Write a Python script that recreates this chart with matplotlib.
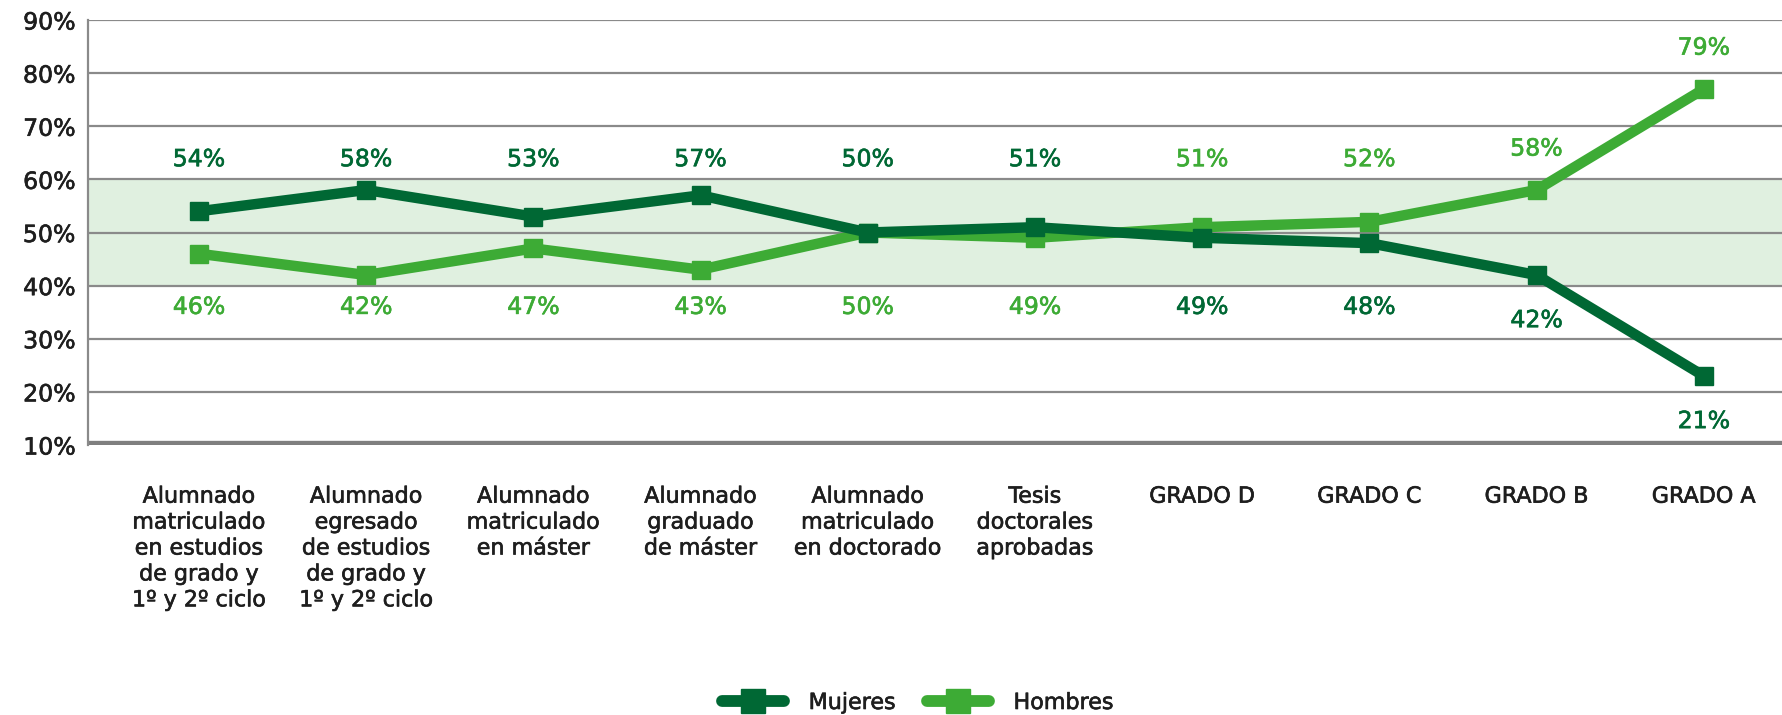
import numpy as np
import matplotlib
matplotlib.use('Agg')
import matplotlib.pyplot as plt
import matplotlib.patheffects as pe
from matplotlib.lines import Line2D

plt.rcParams['font.family'] = ['DejaVu Sans']

categorias = ['Alumnado\nmatriculado\nen estudios\nde grado y\n1º y 2º ciclo',
              'Alumnado\negresado\nde estudios\nde grado y\n1º y 2º ciclo',
              'Alumnado\nmatriculado\nen máster',
              'Alumnado\ngraduado\nde máster',
              'Alumnado\nmatriculado\nen doctorado',
              'Tesis\ndoctorales\naprobadas',
              'GRADO D', 'GRADO C', 'GRADO B', 'GRADO A']
mujeres = [54, 58, 53, 57, 50, 51, 49, 48, 42, 23]
hombres = [46, 42, 47, 43, 50, 49, 51, 52, 58, 77]
etiquetas_mujeres = ['54%', '58%', '53%', '57%', '50%', '51%', '49%', '48%', '42%', '21%']
etiquetas_hombres = ['46%', '42%', '47%', '43%', '50%', '49%', '51%', '52%', '58%', '79%']
yticks = [10, 20, 30, 40, 50, 60, 70, 80, 90]

C_MUJ = '#006834'
C_HOM = '#3dab35'
C_GRID = '#8a8a8a'
C_TXT = '#1e1e1e'


def grueso(color):
    # engrosa un poco el trazo de la fuente (peso "medium")
    return [pe.withStroke(linewidth=0.45, foreground=color)]


fig = plt.figure(figsize=(17.82, 7.15), dpi=100)
ax = fig.add_axes([88/1782, 1-445/715, 1-88/1782, (445-20)/715])

x = np.arange(len(categorias))
ax.set_xlim(-0.664, 9.468)
ax.set_ylim(10, 90)

# franja de paridad 40-60
ax.axhspan(40, 60, color='#e0f0e0', zorder=0, lw=0)
for t in yticks[1:]:
    ax.axhline(t, color=C_GRID, lw=1.6, zorder=1)
ax.axhline(10, color='#7f7f7f', lw=6, zorder=1, solid_capstyle='butt')

for s in ['top', 'right', 'bottom']:
    ax.spines[s].set_visible(False)
ax.spines['left'].set_color(C_GRID)
ax.spines['left'].set_linewidth(1.6)

ax.plot(x, mujeres, color=C_MUJ, lw=7.5, marker='s', ms=13, zorder=3,
        solid_joinstyle='miter')
ax.plot(x, hombres, color=C_HOM, lw=7.5, marker='s', ms=13, zorder=2,
        solid_joinstyle='miter')

for i in range(len(x)):
    if mujeres[i] >= hombres[i]:
        arriba, abajo = (mujeres[i], etiquetas_mujeres[i], C_MUJ), (hombres[i], etiquetas_hombres[i], C_HOM)
    else:
        arriba, abajo = (hombres[i], etiquetas_hombres[i], C_HOM), (mujeres[i], etiquetas_mujeres[i], C_MUJ)
    if i >= 8:  # grados B y A: etiqueta pegada al punto
        ya, yb = arriba[0] + 7.8, abajo[0] - 8.5
    else:
        ya, yb = 63.8, 36.0
    ax.text(x[i], ya, arriba[1], color=arriba[2], fontsize=17, ha='center', va='center',
            path_effects=grueso(arriba[2]))
    ax.text(x[i], yb, abajo[1], color=abajo[2], fontsize=17, ha='center', va='center',
            path_effects=grueso(abajo[2]))

ax.set_yticks(yticks)
ax.set_yticklabels([f'{t}%' for t in yticks], fontsize=17, color=C_TXT,
                   path_effects=grueso(C_TXT))
ax.tick_params(axis='y', length=0, pad=9)
ax.set_xticks(x)
ax.set_xticklabels(categorias, fontsize=16, color=C_TXT, linespacing=1.37, va='top',
                   path_effects=grueso(C_TXT))
ax.tick_params(axis='x', length=0, pad=30)

handles = [Line2D([], [], color=C_MUJ, lw=8.5, marker='s', ms=17, solid_capstyle='round'),
           Line2D([], [], color=C_HOM, lw=8.5, marker='s', ms=17, solid_capstyle='round')]
leg = fig.legend(handles, ['Mujeres', 'Hombres'], loc='center', bbox_to_anchor=(0.515, 1-703/715),
                 ncol=2, frameon=False, fontsize=16, handlelength=2.8, columnspacing=1.4,
                 handletextpad=1.1, labelcolor=C_TXT)
for t in leg.get_texts():
    t.set_path_effects(grueso(C_TXT))

fig.savefig('out.png', dpi=100)
